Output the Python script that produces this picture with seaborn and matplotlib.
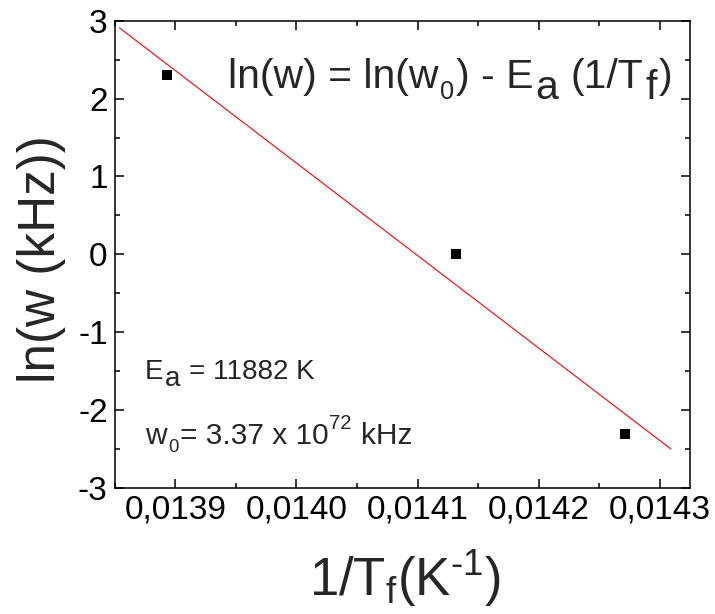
import numpy as np
import pandas as pd
import matplotlib
matplotlib.use("Agg")
import matplotlib.pyplot as plt
import matplotlib.transforms as mtransforms
from matplotlib.ticker import MultipleLocator, FuncFormatter
import seaborn as sns

# Inverse freezing temperature (1/K) and ln of the measuring frequency (kHz)
inv_tf = [0.013893, 0.014132, 0.014271]
ln_w = [2.303, 0.0, -2.303]

# Arrhenius fit parameters shown on the plot
ea_kelvin = 11882
w0_mantissa = "3.37"
w0_exponent = "72"
fit_range = [0.013854, 0.014309]

x_ticks = [0.0139, 0.0140, 0.0141, 0.0142, 0.0143]
y_ticks = [-3, -2, -1, 0, 1, 2, 3]

sns.set_theme(style="ticks")
plt.rcParams["font.family"] = ["Liberation Sans", "DejaVu Sans"]
plt.rcParams["mathtext.fontset"] = "custom"
plt.rcParams["mathtext.rm"] = "Liberation Sans"
plt.rcParams["mathtext.it"] = "Liberation Sans"
plt.rcParams["mathtext.default"] = "regular"

fig = plt.figure(figsize=(7.15, 6.14), dpi=100)
ax = fig.add_axes([0.1604, 0.2052, 0.8046, 0.7611])

df = pd.DataFrame({"x": inv_tf, "y": ln_w})

# Straight line with slope -Ea through the centroid of the points
intercept = np.mean(ln_w) + ea_kelvin * np.mean(inv_tf)
fit_df = pd.DataFrame({"x": fit_range,
                       "y": [intercept - ea_kelvin * v for v in fit_range]})
sns.lineplot(data=fit_df, x="x", y="y", color="#ff0000", linewidth=0.8, ax=ax)

sns.scatterplot(data=df, x="x", y="y", marker="s", s=56, color="black",
                edgecolor="black", linewidth=0, ax=ax, zorder=3)

ax.set_xlim(0.013850, 0.0143247)
ax.set_ylim(-3, 3)
ax.set_xticks(x_ticks)
ax.set_yticks(y_ticks)
ax.xaxis.set_minor_locator(MultipleLocator(0.00005))
ax.yaxis.set_minor_locator(MultipleLocator(0.5))
ax.xaxis.set_major_formatter(FuncFormatter(lambda v, p: f"{v:.4f}".replace(".", ",")))
ax.yaxis.set_major_formatter(FuncFormatter(lambda v, p: f"{v:.0f}"))

ax.tick_params(which="both", direction="in", top=True, right=True,
               width=1.1, colors="black", labelsize=24)
ax.tick_params(which="major", length=6.5, pad=5)
ax.tick_params(which="minor", length=3.6)
for sp in ax.spines.values():
    sp.set_linewidth(1.1)
    sp.set_color("black")
    sp.set_visible(True)

ax.set_xlabel(r"1/T$_\mathregular{f}$(K$^{\text{-1}}$)", fontsize=38, va="top")
ax.xaxis.set_label_coords(0.505, -0.128)
ax.set_ylabel("ln(w (kHz))", fontsize=37)
ax.yaxis.set_label_coords(-0.085, 0.49)

renderer = fig.canvas.get_renderer()
SPACE_EM = 0.278


def rich_text(x, y, parts, size, ha="left", gap=0.04):
    """Draw pieces of text side by side on one baseline.

    parts: (text, relative size, vertical shift in em) tuples.
    Leading/trailing blanks of a piece become horizontal advances.
    """
    pieces = []
    for s, rel, dy in parts:
        lead = (len(s) - len(s.lstrip(" "))) * SPACE_EM * size * rel
        trail = (len(s) - len(s.rstrip(" "))) * SPACE_EM * size * rel
        core = s.strip(" ")
        t = ax.text(x, y, core, fontsize=size * rel, transform=ax.transAxes,
                    ha="left", va="baseline")
        w = t.get_window_extent(renderer).width * 72.0 / fig.dpi
        pieces.append((t, dy, lead, w, trail))
    total = sum(p[2] + p[3] + p[4] for p in pieces) + gap * size * (len(pieces) - 1)
    cursor = {"left": 0.0, "right": -total, "center": -total / 2}[ha]
    for t, dy, lead, w, trail in pieces:
        cursor += lead
        t.set_transform(mtransforms.offset_copy(ax.transAxes, fig=fig,
                                                x=cursor, y=dy * size,
                                                units="points"))
        cursor += w + trail + gap * size


rich_text(0.969, 0.856,
          [("ln(w) = ln(w", 1.0, 0.0), ("0", 0.62, -0.28),
           (") - E", 1.0, 0.0), ("a", 1.0, -0.28),
           (" (1/T", 1.0, 0.0), ("f", 1.0, -0.28), (")", 1.0, 0.0)],
          size=29.5, ha="right")

rich_text(0.053, 0.234,
          [("E", 1.0, 0.0), ("a", 1.0, -0.28), (" = " + str(ea_kelvin) + " K", 1.0, 0.0)],
          size=20)

rich_text(0.053, 0.095,
          [("w", 1.0, 0.0), ("0", 0.62, -0.28), ("= " + w0_mantissa + " x 10", 1.0, 0.0),
           (w0_exponent, 0.68, 0.5), (" kHz", 1.0, 0.0)],
          size=21.5)

fig.savefig("out.png", dpi=100)
